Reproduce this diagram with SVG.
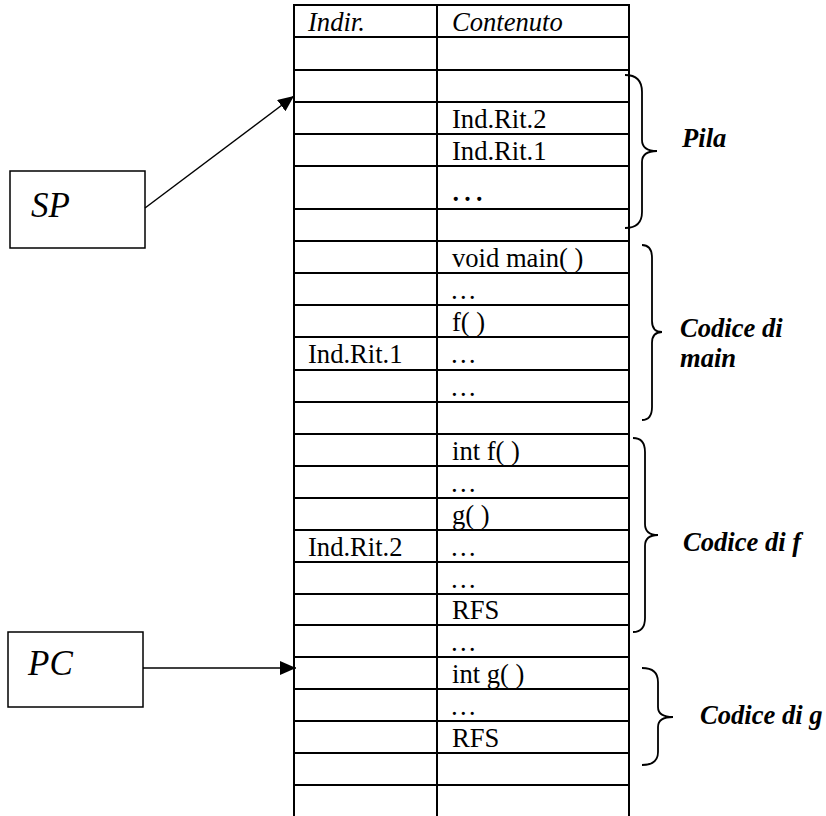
<svg xmlns="http://www.w3.org/2000/svg" width="826" height="816" viewBox="0 0 826 816">
<defs>
<style>
.ln{stroke:#000;stroke-width:2;fill:none}
.t{font-family:"Liberation Serif","Times New Roman",serif;font-size:26.6px;fill:#000}
.it{font-style:italic}
.lbl{font-family:"Liberation Serif","Times New Roman",serif;font-size:26.6px;font-weight:bold;font-style:italic;fill:#000}
.big{font-family:"Liberation Serif","Times New Roman",serif;font-size:35px;font-style:italic;fill:#000}
.br{stroke:#000;stroke-width:1.8;fill:none}
</style>
<marker id="ah" markerWidth="16" markerHeight="14" refX="16" refY="7" orient="auto" markerUnits="userSpaceOnUse">
<path d="M0,0 L16,7 L0,14 Z" fill="#000"/>
</marker>
</defs>
<rect width="826" height="816" fill="#fff"/>
<g id="table">
<g class="ln">
<line x1="294" y1="4" x2="294" y2="816"/>
<line x1="437" y1="4" x2="437" y2="816"/>
<line x1="629" y1="4" x2="629" y2="816"/>
<path d="M293,5H630 M293,37H630 M293,70H630 M293,102H630 M293,134H630 M293,166H630 M293,209H630 M293,241H630 M293,273H630 M293,305H630 M293,337H630 M293,370H630 M293,402H630 M293,434H630 M293,466H630 M293,498H630 M293,530H630 M293,562H630 M293,594H630 M293,625H630 M293,657H630 M293,689H630 M293,721H630 M293,753H630 M293,785H630"/>
</g>
<text class="t it" x="308" y="31">Indir.</text>
<text class="t it" x="452" y="31">Contenuto</text>
<text class="t" x="452" y="128">Ind.Rit.2</text>
<text class="t" x="452" y="160">Ind.Rit.1</text>
<text class="t" x="450" y="201" style="font-size:35px">…</text>
<text class="t" x="452" y="267">void main( )</text>
<text class="t" x="450" y="299">…</text>
<text class="t" x="452" y="331">f( )</text>
<text class="t" x="308" y="363">Ind.Rit.1</text>
<text class="t" x="450" y="363">…</text>
<text class="t" x="450" y="396">…</text>
<text class="t" x="452" y="460">int f( )</text>
<text class="t" x="450" y="492">…</text>
<text class="t" x="452" y="524">g( )</text>
<text class="t" x="308" y="556">Ind.Rit.2</text>
<text class="t" x="450" y="556">…</text>
<text class="t" x="450" y="588">…</text>
<text class="t" x="452" y="619">RFS</text>
<text class="t" x="450" y="651">…</text>
<text class="t" x="452" y="683">int g( )</text>
<text class="t" x="450" y="715">…</text>
<text class="t" x="452" y="747">RFS</text>
</g>
<g id="sp">
<rect x="10" y="171" width="135" height="77" class="ln" style="stroke-width:1.5"/>
<text class="big" x="31" y="217">SP</text>
</g>
<g id="pc">
<rect x="8" y="632" width="135" height="75" class="ln" style="stroke-width:1.5"/>
<text class="big" x="28" y="675">PC</text>
</g>
<g id="pila">
<path class="br" d="M625,75 Q642,75 642,92 L642,140 Q642,151 657,151 Q642,151 642,162 L642,212 Q642,228 625,228"/>
<text class="lbl" x="682" y="147">Pila</text>
</g>
<g id="main">
<path class="br" d="M642,245 Q652,245 652,258 L652,321 Q652,332 662,332 Q652,332 652,343 L652,407 Q652,420 642,420"/>
<text class="lbl" x="680" y="337">Codice di</text>
<text class="lbl" x="680" y="367">main</text>
</g>
<g id="codf">
<path class="br" d="M633,438 Q645,438 645,452 L645,524 Q645,535 658,535 Q645,535 645,546 L645,618 Q645,632 633,632"/>
<text class="lbl" x="683" y="551">Codice di f</text>
</g>
<g id="codg">
<path class="br" d="M642,668 Q658,668 658,682 L658,707 Q658,717 673,717 Q658,717 658,727 L658,752 Q658,765 642,765"/>
<text class="lbl" x="700" y="724">Codice di g</text>
</g>
<g id="connectors">
<line class="ln" style="stroke-width:1.5" x1="145" y1="208" x2="294" y2="96" marker-end="url(#ah)"/>
<line class="ln" style="stroke-width:1.5" x1="143" y1="668" x2="296" y2="668" marker-end="url(#ah)"/>
</g>
</svg>
